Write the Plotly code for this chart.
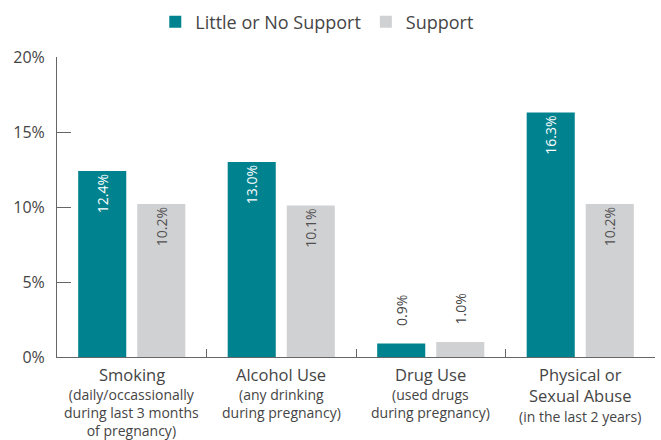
import plotly.graph_objects as go

categories = ["Smoking", "Alcohol Use", "Drug Use", "Physical or Sexual Abuse"]
cat_titles = [["Smoking"], ["Alcohol Use"], ["Drug Use"], ["Physical or", "Sexual Abuse"]]
cat_notes = [
    ["(daily/occassionally", "during last 3 months", "of pregnancy)"],
    ["(any drinking", "during pregnancy)"],
    ["(used drugs", "during pregnancy)"],
    ["(in the last 2 years)"],
]
little_support = [12.4, 13.0, 0.9, 16.3]
support = [10.2, 10.1, 1.0, 10.2]

TEAL = "#00838F"
GRAY = "#D0D1D3"
TEXT = "#454545"
FONT = "Open Sans, Lato, sans-serif"
PAD = "\u00a0" * 4

fig = go.Figure()
fig.add_trace(go.Bar(
    x=categories, y=little_support, name="Little or No Support",
    marker=dict(color=TEAL, line=dict(width=0)),
    texttemplate=PAD + "%{y:.1f}%", textposition="auto", textangle=-90,
    insidetextanchor="end", constraintext="none",
    insidetextfont=dict(color="white", size=14, family=FONT),
    outsidetextfont=dict(color=TEXT, size=14, family=FONT),
    cliponaxis=False,
))
fig.add_trace(go.Bar(
    x=categories, y=support, name="Support",
    marker=dict(color=GRAY, line=dict(width=0)),
    texttemplate=PAD + "%{y:.1f}%", textposition="auto", textangle=-90,
    insidetextanchor="end", constraintext="none",
    insidetextfont=dict(color="#505050", size=14, family=FONT),
    outsidetextfont=dict(color=TEXT, size=14, family=FONT),
    cliponaxis=False,
))

annotations = []
for cat, titles, notes in zip(categories, cat_titles, cat_notes):
    annotations.append(dict(
        x=cat, xref="x", y=0, yref="paper", yanchor="top", xanchor="center",
        yshift=-5, showarrow=False, align="center", borderpad=0,
        font=dict(size=16.5, color=TEXT, family=FONT),
        text="<br>".join(titles),
    ))
    annotations.append(dict(
        x=cat, xref="x", y=0, yref="paper", yanchor="top", xanchor="center",
        yshift=-5 - 22 * len(titles), showarrow=False, align="center", borderpad=0,
        font=dict(size=14, color=TEXT, family=FONT),
        text="<br>".join(notes),
    ))

fig.update_layout(
    width=661, height=440,
    margin=dict(l=57, r=6, t=57, b=83, autoexpand=False),
    paper_bgcolor="white", plot_bgcolor="white",
    font=dict(family=FONT, color=TEXT, size=14),
    barmode="group", bargap=0.21, bargroupgap=0.186,
    showlegend=True,
    legend=dict(orientation="h", x=0.48, xanchor="center", xref="container",
                y=0.95, yanchor="middle", yref="container",
                font=dict(size=18, color=TEXT), itemwidth=30, traceorder="normal"),
    annotations=annotations,
)
fig.update_xaxes(
    showline=True, linecolor="#666666", linewidth=1, automargin=False,
    ticks="inside", tickson="boundaries", ticklen=8, tickcolor="#666666",
    showticklabels=False, showgrid=False, fixedrange=True,
)
fig.update_yaxes(
    range=[0, 20], dtick=5, ticksuffix="%", automargin=False,
    showline=True, linecolor="#666666", linewidth=1,
    ticks="inside", ticklen=14, tickcolor="#666666",
    tickfont=dict(size=16, color=TEXT), ticklabelstandoff=8,
    showgrid=False, zeroline=False, fixedrange=True,
)

fig.write_html("out.html", config=dict(displayModeBar=False),
               post_script="document.body.style.margin='0';document.body.style.overflow='hidden';")
